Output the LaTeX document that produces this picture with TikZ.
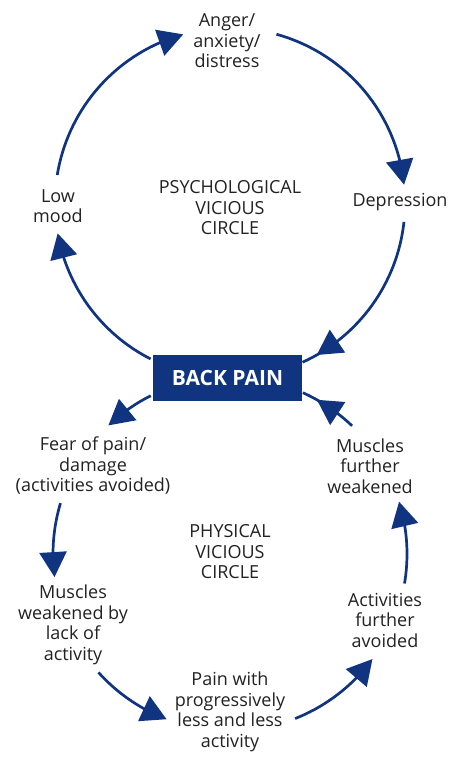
\documentclass[tikz,border=0pt]{standalone}
\usepackage{fontspec}
\setmainfont{Open Sans}
\usetikzlibrary{arrows.meta,calc}
\definecolor{navy}{RGB}{16,52,128}
\definecolor{txt}{RGB}{34,34,34}
\begin{document}
\begin{tikzpicture}[x=1pt,y=1pt,
  lbl/.style={align=center, text=txt, font=\fontsize{18}{20.5}\selectfont, inner sep=0pt},
  lineonly/.style={draw=navy, line width=2.7pt},
  arr/.style={lineonly, -{Triangle[length=25pt,width=27pt]}},
  boxnode/.style={fill=navy, minimum width=149pt, minimum height=46pt, text=white, font=\bfseries\fontsize{21}{22}\selectfont, inner sep=0pt}]
\useasboundingbox[fill=white] (0,0) rectangle (458,765);
\coordinate (pc) at (230,562);
\coordinate (qc) at (230,211);
% nodes
\node[lbl] (anger) at (227,724) {Anger/\\anxiety/\\distress};
\node[lbl] (low) at (58,559) {Low\\mood};
\node[lbl] (psy) at (230,557) {PSYCHOLOGICAL\\VICIOUS\\CIRCLE};
\node[lbl] (dep) at (400,563) {Depression};
\node[boxnode] (back) at (227.5,387) {BACK PAIN};
\node[lbl] (fear) at (93,299) {Fear of pain/\\damage\\(activities avoided)};
\node[lbl] (mfw) at (370,299) {Muscles\\further\\weakened};
\node[lbl] (phy) at (230,213) {PHYSICAL\\VICIOUS\\CIRCLE};
\node[lbl] (mwl) at (73,140) {Muscles\\weakened by\\lack of\\activity};
\node[lbl] (pain) at (230,53) {Pain with\\progressively\\less and less\\activity};
\node[lbl] (act) at (385,145) {Activities\\further\\avoided};
% psychological circle: start, arrow base, arrow tip
\coordinate (p1) at ($(pc)+(170.8:175)$);
\coordinate (pb1) at ($(pc)+(113.7:175)$);
\coordinate (pt1) at ($(pc)+(105.5:175)$);
\coordinate (p2) at ($(pc)+(74.6:175)$);
\coordinate (pb2) at ($(pc)+(14.2:175)$);
\coordinate (pt2) at ($(pc)+(6:175)$);
\coordinate (p3) at ($(pc)+(-6.2:175)$);
\coordinate (pb3) at ($(pc)+(-52.1:175)$);
\coordinate (pt3) at ($(pc)+(-60.3:175)$);
\coordinate (p4) at ($(pc)+(243:175)$);
\coordinate (pb4) at ($(pc)+(198.2:175)$);
\coordinate (pt4) at ($(pc)+(190:175)$);
% physical circle
\coordinate (q1) at ($(qc)+(116.6:177)$);
\coordinate (qb1) at ($(qc)+(125.3:177)$);
\coordinate (qt1) at ($(qc)+(133.4:177)$);
\coordinate (q2) at ($(qc)+(163.3:177)$);
\coordinate (qb2) at ($(qc)+(179.4:177)$);
\coordinate (qt2) at ($(qc)+(187.5:177)$);
\coordinate (q3) at ($(qc)+(222:177)$);
\coordinate (qb3) at ($(qc)+(240.9:177)$);
\coordinate (qt3) at ($(qc)+(249:177)$);
\coordinate (q4) at ($(qc)+(291.6:177)$);
\coordinate (qb4) at ($(qc)+(315.5:177)$);
\coordinate (qt4) at ($(qc)+(323.6:177)$);
\coordinate (q5) at ($(qc)+(350.4:177)$);
\coordinate (qb5) at ($(qc)+(369.1:177)$);
\coordinate (qt5) at ($(qc)+(377.2:177)$);
\coordinate (q6) at ($(qc)+(46.4:177)$);
\coordinate (qb6) at ($(qc)+(52.5:177)$);
\coordinate (qt6) at ($(qc)+(60.6:177)$);
% psychological circle arcs
\draw[lineonly] (p1) arc[start angle=170.8, end angle=109.6, radius=175];
\draw[arr] (pb1) -- (pt1);
\draw[lineonly] (p2) arc[start angle=74.6, end angle=10.1, radius=175];
\draw[arr] (pb2) -- (pt2);
\draw[lineonly] (p3) arc[start angle=-6.2, end angle=-65.5, radius=175];
\draw[arr] (pb3) -- (pt3);
\draw[lineonly] (p4) arc[start angle=243, end angle=194.1, radius=175];
\draw[arr] (pb4) -- (pt4);
% physical circle arcs
\draw[lineonly] (q1) arc[start angle=116.6, end angle=129.3, radius=177];
\draw[arr] (qb1) -- (qt1);
\draw[lineonly] (q2) arc[start angle=163.3, end angle=183.4, radius=177];
\draw[arr] (qb2) -- (qt2);
\draw[lineonly] (q3) arc[start angle=222, end angle=244.9, radius=177];
\draw[arr] (qb3) -- (qt3);
\draw[lineonly] (q4) arc[start angle=291.6, end angle=319.5, radius=177];
\draw[arr] (qb4) -- (qt4);
\draw[lineonly] (q5) arc[start angle=350.4, end angle=373.1, radius=177];
\draw[arr] (qb5) -- (qt5);
\draw[lineonly] (q6) arc[start angle=46.4, end angle=65.7, radius=177];
\draw[arr] (qb6) -- (qt6);
\end{tikzpicture}
\end{document}
